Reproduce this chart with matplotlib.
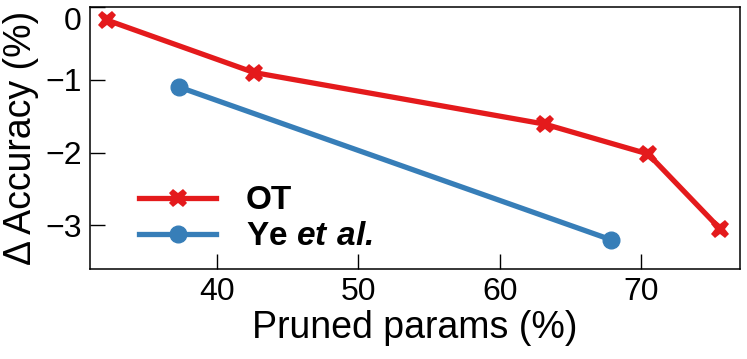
import numpy as np
import matplotlib
matplotlib.use("Agg")
from matplotlib import pyplot as plt

plt.rcParams['font.family'] = ['Liberation Sans', 'DejaVu Sans']
plt.rcParams['mathtext.fontset'] = 'custom'
plt.rcParams['mathtext.bfit'] = 'Liberation Sans:bold:italic'
plt.rcParams['mathtext.bf'] = 'Liberation Sans:bold'

# data
ot_x = [32.2, 42.6, 63.2, 70.5, 75.6]
ot_y = [-0.18, -0.90, -1.61, -2.02, -3.05]
ye_x = [37.3, 67.9]
ye_y = [-1.10, -3.20]
xticks = [40, 50, 60, 70]
yticks = [0, -1, -2, -3]

red = "#e41a1c"
blue = "#377eb8"

fig = plt.figure(figsize=(7.47, 3.59), dpi=100)
ax = fig.add_axes([0.1205, 0.2507, 0.8701, 0.7298])

ax.plot(ot_x, ot_y, color=red, lw=3.8, marker="X", ms=13, mew=0, label="OT", zorder=3)
ax.plot(ye_x, ye_y, color=blue, lw=3.8, marker="o", ms=12, label=r"Ye $\mathbfit{et\ al.}$", zorder=3)

ax.set_xlim(31, 77)
ax.set_ylim(-3.6, 0)
ax.set_xticks(xticks)
ax.set_yticks(yticks)
ax.set_yticklabels(["0", "\u22121", "\u22122", "\u22123"])
ax.tick_params(direction="in", length=11, width=1, labelsize=23, pad=6)
for s in ax.spines.values():
    s.set_linewidth(1.1)
ax.get_yticklabels()[0].set_va("top")

ax.set_xlabel("Pruned params (%)", fontsize=27, labelpad=2)
ax.set_ylabel("\u0394 Accuracy (%)", fontsize=27, labelpad=4)

leg = ax.legend(loc="lower left", bbox_to_anchor=(0.05, 0.0), frameon=False,
                prop={"size": 24, "weight": "bold"}, handlelength=2.3,
                handletextpad=0.9, labelspacing=0.15, borderpad=0)

fig.savefig("out.png", dpi=100)
